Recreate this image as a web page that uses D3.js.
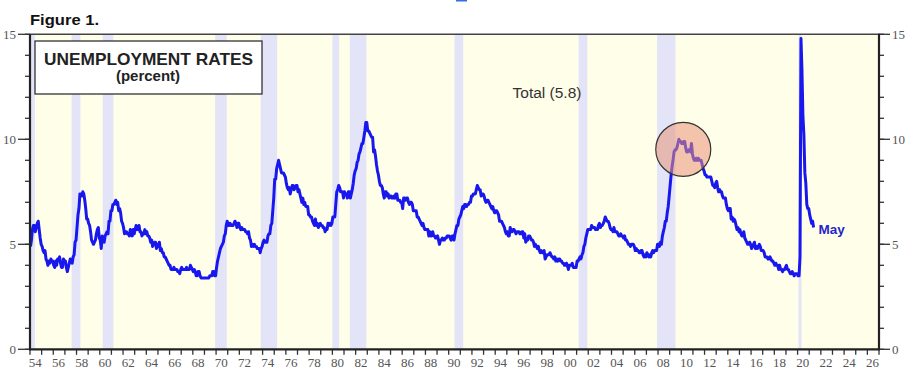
<!DOCTYPE html>
<html><head><meta charset="utf-8">
<script src="https://cdn.jsdelivr.net/npm/d3@7/dist/d3.min.js"></script>
<style>html,body{margin:0;padding:0;background:#fff;}svg{display:block;}</style>
</head><body>
<svg id="c" width="915" height="379"></svg>
<script>
// ---- data: monthly US unemployment rate (percent), Jan 1954 .. May 2021 ----
const rates1950s = [
4.9,5.2,5.7,5.9,5.9,5.6,5.8,6.0,6.1,5.7,5.3,5.0,
4.9,4.7,4.6,4.7,4.3,4.2,4.0,4.2,4.1,4.3,4.2,4.2,
4.0,3.9,4.2,4.0,4.3,4.3,4.4,4.1,3.9,3.9,4.3,4.2,
4.2,3.9,3.7,3.9,4.1,4.3,4.2,4.1,4.4,4.5,5.1,5.2,
5.8,6.4,6.7,7.4,7.4,7.3,7.5,7.4,7.1,6.7,6.2,6.2,
6.0,5.9,5.6,5.2,5.1,5.0,5.1,5.2,5.5,5.7,5.8,5.3];
const rates1960s = [
5.2,4.8,5.4,5.2,5.1,5.4,5.5,5.6,5.5,6.1,6.1,6.6,
6.6,6.9,6.9,7.0,7.1,6.9,7.0,6.6,6.7,6.5,6.1,6.0,
5.8,5.5,5.6,5.6,5.5,5.5,5.4,5.7,5.6,5.4,5.7,5.5,
5.7,5.9,5.7,5.7,5.9,5.6,5.6,5.4,5.5,5.5,5.7,5.5,
5.6,5.4,5.4,5.3,5.1,5.2,4.9,5.0,5.1,5.1,4.8,5.0,
4.9,5.1,4.7,4.8,4.6,4.6,4.4,4.4,4.3,4.2,4.1,4.0,
4.0,3.8,3.8,3.8,3.9,3.8,3.8,3.8,3.7,3.7,3.6,3.8,
3.9,3.8,3.8,3.8,3.8,3.9,3.8,3.8,3.8,4.0,3.9,3.8,
3.7,3.8,3.7,3.5,3.5,3.7,3.7,3.5,3.4,3.4,3.4,3.4,
3.4,3.4,3.4,3.4,3.4,3.5,3.5,3.5,3.7,3.7,3.5,3.5];
const rates1970s = [
3.9,4.2,4.4,4.6,4.8,4.9,5.0,5.1,5.4,5.5,5.9,6.1,
5.9,5.9,6.0,5.9,5.9,5.9,6.0,6.1,6.0,5.8,6.0,6.0,
5.8,5.7,5.8,5.7,5.7,5.7,5.6,5.6,5.5,5.6,5.3,5.2,
4.9,5.0,4.9,5.0,4.9,4.9,4.8,4.8,4.8,4.6,4.8,4.9,
5.1,5.2,5.1,5.1,5.1,5.4,5.5,5.5,5.9,6.0,6.6,7.2,
8.1,8.1,8.6,8.8,9.0,8.8,8.6,8.4,8.4,8.4,8.3,8.2,
7.9,7.7,7.6,7.7,7.4,7.6,7.8,7.8,7.6,7.7,7.8,7.8,
7.5,7.6,7.4,7.2,7.0,7.2,6.9,7.0,6.8,6.8,6.8,6.4,
6.4,6.3,6.3,6.1,6.0,5.9,6.2,5.9,6.0,5.8,5.9,6.0,
5.9,5.9,5.8,5.8,5.6,5.7,5.7,6.0,5.9,6.0,5.9,6.0];
const rates1980s = [
6.3,6.3,6.3,6.9,7.5,7.6,7.8,7.7,7.5,7.5,7.5,7.2,
7.5,7.4,7.4,7.2,7.5,7.5,7.2,7.4,7.6,7.9,8.3,8.5,
8.6,8.9,9.0,9.3,9.4,9.6,9.8,9.8,10.1,10.4,10.8,10.8,
10.4,10.4,10.3,10.2,10.1,10.1,9.4,9.5,9.2,8.8,8.5,8.3,
8.0,7.8,7.8,7.7,7.4,7.2,7.5,7.5,7.3,7.4,7.2,7.3,
7.3,7.2,7.2,7.3,7.2,7.4,7.4,7.1,7.1,7.1,7.0,7.0,
6.7,7.2,7.2,7.1,7.2,7.2,7.0,6.9,7.0,7.0,6.9,6.6,
6.6,6.6,6.6,6.3,6.3,6.2,6.1,6.0,5.9,6.0,5.8,5.7,
5.7,5.7,5.7,5.4,5.6,5.4,5.4,5.6,5.4,5.4,5.3,5.3,
5.4,5.2,5.0,5.2,5.2,5.3,5.2,5.2,5.3,5.3,5.4,5.4];
const rates1990s = [
5.4,5.3,5.2,5.4,5.4,5.2,5.5,5.7,5.9,5.9,6.2,6.3,
6.4,6.6,6.8,6.7,6.9,6.9,6.8,6.9,6.9,7.0,7.0,7.3,
7.3,7.4,7.4,7.4,7.6,7.8,7.7,7.6,7.6,7.3,7.4,7.4,
7.3,7.1,7.0,7.1,7.1,7.0,6.9,6.8,6.7,6.8,6.6,6.5,
6.6,6.6,6.5,6.4,6.1,6.1,6.1,6.0,5.9,5.8,5.6,5.5,
5.6,5.4,5.4,5.8,5.6,5.6,5.7,5.7,5.6,5.5,5.6,5.6,
5.6,5.5,5.5,5.6,5.6,5.3,5.5,5.1,5.2,5.2,5.4,5.4,
5.3,5.2,5.2,5.1,4.9,5.0,4.9,4.8,4.9,4.7,4.6,4.7,
4.6,4.6,4.7,4.3,4.4,4.5,4.5,4.5,4.6,4.5,4.4,4.4,
4.3,4.4,4.2,4.3,4.2,4.3,4.3,4.2,4.2,4.1,4.1,4.0];
const rates2000s = [
4.0,4.1,4.0,3.8,4.0,4.0,4.0,4.1,3.9,3.9,3.9,3.9,
4.2,4.2,4.3,4.4,4.3,4.5,4.6,4.9,5.0,5.3,5.5,5.7,
5.7,5.7,5.7,5.9,5.8,5.8,5.8,5.7,5.7,5.7,5.9,6.0,
5.8,5.9,5.9,6.0,6.1,6.3,6.2,6.1,6.1,6.0,5.8,5.7,
5.7,5.6,5.8,5.6,5.6,5.6,5.5,5.4,5.4,5.5,5.4,5.4,
5.3,5.4,5.2,5.2,5.1,5.0,5.0,4.9,5.0,5.0,5.0,4.9,
4.7,4.8,4.7,4.7,4.6,4.6,4.7,4.7,4.5,4.4,4.5,4.4,
4.6,4.5,4.4,4.5,4.4,4.6,4.7,4.6,4.7,4.7,4.7,5.0,
5.0,4.9,5.1,5.0,5.4,5.6,5.8,6.1,6.1,6.5,6.8,7.3,
7.8,8.3,8.7,9.0,9.4,9.5,9.5,9.6,9.8,10.0,9.9,9.9];
const rates2010s = [
9.8,9.8,9.9,9.9,9.6,9.4,9.4,9.5,9.5,9.4,9.8,9.3,
9.1,9.0,9.0,9.1,9.0,9.1,9.0,9.0,9.0,8.8,8.6,8.5,
8.3,8.3,8.2,8.2,8.2,8.2,8.2,8.0,7.8,7.8,7.7,7.9,
8.0,7.7,7.5,7.6,7.5,7.5,7.3,7.2,7.2,7.2,6.9,6.7,
6.6,6.7,6.7,6.2,6.3,6.1,6.2,6.1,5.9,5.7,5.8,5.6,
5.7,5.5,5.4,5.4,5.6,5.3,5.2,5.1,5.0,5.0,5.1,5.0,
4.8,4.9,5.0,5.1,4.8,4.9,4.8,4.9,5.0,4.9,4.7,4.7,
4.7,4.6,4.4,4.4,4.4,4.3,4.3,4.4,4.3,4.2,4.2,4.1,
4.0,4.1,4.0,4.0,3.8,4.0,3.8,3.8,3.7,3.8,3.8,3.9,
4.0,3.8,3.8,3.7,3.6,3.6,3.7,3.6,3.5,3.6,3.6,3.6];
const rates2020s = [
3.5,3.5,4.4,14.8,13.3,11.1,10.2,8.4,7.9,6.9,6.7,6.7,
6.4,6.2,6.0,6.1,5.8];
const startYear = 1954;

// NBER recessions [start, end] as "year.month" fractions
const recessionStarts = [1953.50, 1957.58, 1960.25, 1969.92, 1973.83, 1980.00, 1981.50, 1990.50, 2001.17, 2007.92, 2020.08];
const recessionEnds   = [1954.42, 1958.33, 1961.17, 1970.92, 1975.25, 1980.58, 1982.92, 1991.25, 2001.92, 2009.50, 2020.33];

const yTicks = [0, 5, 10, 15];
const yMinorTicks = d3.range(0, 16, 1);
const xTickYears = d3.range(1954, 2028, 1);
const xLabelYears = d3.range(1954, 2027, 2);

const titleText = "Figure 1.";
const legendLine1 = "UNEMPLOYMENT RATES";
const legendLine2 = "(percent)";
const seriesLabel = "Total (5.8)";
const lastLabel = "May";
const highlight = {year: 2010.17, value: 9.52};

// ---- build ----
const allRates = [].concat(rates1950s, rates1960s, rates1970s, rates1980s, rates1990s, rates2000s, rates2010s, rates2020s);
const series = allRates.map((v, i) => ({t: startYear + (i + 0.5) / 12, v}));

const svg = d3.select("#c");
const L = 30, R = 879, T = 34.3, B = 349.3;
const x = d3.scaleLinear().domain([1954, 2027]).range([L, R]);
const y = d3.scaleLinear().domain([0, 15]).range([B, T]);

svg.append("defs").append("clipPath").attr("id", "clip")
  .append("rect").attr("x", L).attr("y", T).attr("width", R - L).attr("height", B - T);

// plot background
svg.append("rect").attr("x", L).attr("y", T).attr("width", R - L).attr("height", B - T).attr("fill", "#fffee9");

// recession bands
svg.append("g").attr("clip-path", "url(#clip)").selectAll("rect")
  .data(recessionStarts.map((s, i) => [s, recessionEnds[i]]))
  .join("rect")
  .attr("x", d => x(d[0])).attr("y", T)
  .attr("width", d => Math.max(1.2, x(d[1]) - x(d[0])))
  .attr("height", B - T)
  .attr("fill", "#e3e4f8");

// legend box
svg.append("rect").attr("x", 35).attr("y", 41).attr("width", 227).attr("height", 53)
  .attr("fill", "#fff").attr("stroke", "#333").attr("stroke-width", 1.3);
svg.append("text").attr("x", 148.5).attr("y", 65).attr("text-anchor", "middle")
  .attr("font-family", "Liberation Sans, Arial, sans-serif").attr("font-weight", "bold")
  .attr("font-size", 16.5).attr("fill", "#222")
  .attr("textLength", 209).attr("lengthAdjust", "spacingAndGlyphs").text(legendLine1);
svg.append("text").attr("x", 148).attr("y", 81).attr("text-anchor", "middle")
  .attr("font-family", "Liberation Sans, Arial, sans-serif").attr("font-weight", "bold")
  .attr("font-size", 15).attr("fill", "#222").text(legendLine2);

// series label
svg.append("text").attr("x", 547).attr("y", 98).attr("text-anchor", "middle")
  .attr("font-family", "Liberation Sans, Arial, sans-serif")
  .attr("font-size", 15.5).attr("fill", "#333").text(seriesLabel);

// line
const line = d3.line().x(d => x(d.t)).y(d => y(d.v));
svg.append("path").datum(series).attr("clip-path", "url(#clip)")
  .attr("d", line).attr("fill", "none").attr("stroke", "#1818ee")
  .attr("stroke-width", 3).attr("stroke-linejoin", "round");

// last value label
const last = series[series.length - 1];
svg.append("text").attr("x", x(last.t) + 5).attr("y", y(last.v) + 6)
  .attr("font-family", "Liberation Sans, Arial, sans-serif").attr("font-weight", "bold")
  .attr("font-size", 13.5).attr("fill", "#2525cc").text(lastLabel);

// highlight circle
svg.append("ellipse").attr("cx", x(highlight.year)).attr("cy", y(highlight.value))
  .attr("rx", 27.5).attr("ry", 27)
  .attr("fill", "#ea9478").attr("fill-opacity", 0.55)
  .attr("stroke", "#333").attr("stroke-width", 1.2);

// frame
svg.append("line").attr("x1", L).attr("x2", R).attr("y1", T).attr("y2", T).attr("stroke", "#444").attr("stroke-width", 1.5);

// left axis
const gl = svg.append("g").attr("transform", `translate(${L},0)`);
gl.selectAll(".mn").data(yMinorTicks).join("line")
  .attr("x1", -5).attr("x2", 0).attr("y1", d => y(d)).attr("y2", d => y(d)).attr("stroke", "#333").attr("stroke-width", 1.3);
gl.selectAll(".mj").data(yTicks).join("line")
  .attr("x1", -12).attr("x2", 0).attr("y1", d => y(d)).attr("y2", d => y(d)).attr("stroke", "#333").attr("stroke-width", 1.3);
gl.selectAll("text").data(yTicks).join("text")
  .attr("x", -14).attr("y", d => y(d) + 4.5).attr("text-anchor", "end")
  .attr("font-family", "Liberation Serif, Times New Roman, serif").attr("font-size", 13).attr("fill", "#555")
  .text(d => d);
gl.append("line").attr("x1", 0).attr("x2", 0).attr("y1", T).attr("y2", B + 1).attr("stroke", "#222").attr("stroke-width", 2.2);

// right axis
const gr = svg.append("g").attr("transform", `translate(${R},0)`);
gr.selectAll(".mn").data(yMinorTicks).join("line")
  .attr("x1", 0).attr("x2", 5).attr("y1", d => y(d)).attr("y2", d => y(d)).attr("stroke", "#333").attr("stroke-width", 1.3);
gr.selectAll(".mj").data(yTicks).join("line")
  .attr("x1", 0).attr("x2", 11).attr("y1", d => y(d)).attr("y2", d => y(d)).attr("stroke", "#333").attr("stroke-width", 1.3);
gr.selectAll("text").data(yTicks).join("text")
  .attr("x", 13).attr("y", d => y(d) + 4.5).attr("text-anchor", "start")
  .attr("font-family", "Liberation Serif, Times New Roman, serif").attr("font-size", 13).attr("fill", "#555")
  .text(d => d);
gr.append("line").attr("x1", 0).attr("x2", 0).attr("y1", T - 0.5).attr("y2", B + 1).attr("stroke", "#222").attr("stroke-width", 2.2);

// bottom axis
const gb = svg.append("g").attr("transform", `translate(0,${B})`);
gb.selectAll("line.t").data(xTickYears).join("line")
  .attr("x1", d => x(d)).attr("x2", d => x(d)).attr("y1", 0).attr("y2", 5.5)
  .attr("stroke", "#333").attr("stroke-width", 1.3);
gb.selectAll("text").data(xLabelYears).join("text")
  .attr("x", d => x(d + 0.45)).attr("y", 18).attr("text-anchor", "middle")
  .attr("font-family", "Liberation Serif, Times New Roman, serif").attr("font-size", 13).attr("fill", "#555")
  .text(d => String(d % 100).padStart(2, "0"));
gb.append("line").attr("x1", L - 1).attr("x2", R + 1).attr("y1", 0).attr("y2", 0).attr("stroke", "#222").attr("stroke-width", 2.2);

// title
svg.append("text").attr("x", 30).attr("y", 25)
  .attr("font-family", "Liberation Sans, Arial, sans-serif").attr("font-weight", "bold")
  .attr("font-size", 15).attr("fill", "#111")
  .attr("textLength", 69).attr("lengthAdjust", "spacingAndGlyphs").text(titleText);

// small blue mark at top edge (as in source image)
svg.append("rect").attr("x", 456).attr("y", 0).attr("width", 11).attr("height", 1.5).attr("fill", "#2f6fe0");
</script>
</body></html>
